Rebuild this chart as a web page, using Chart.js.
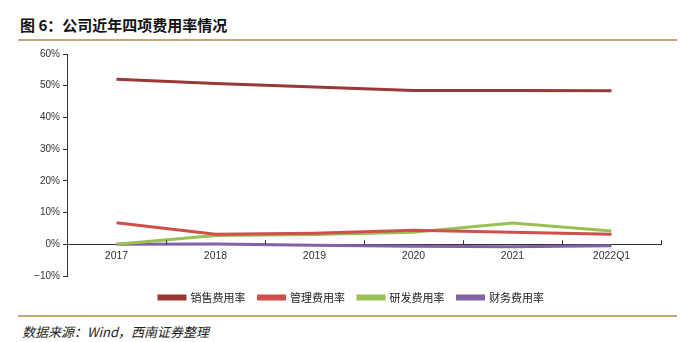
<!DOCTYPE html>
<html>
<head>
<meta charset="utf-8">
<script src="https://cdn.jsdelivr.net/npm/chart.js@4/dist/chart.umd.min.js"></script>
<style>
  body { margin: 0; background: #fff; width: 682px; height: 342px; position: relative; overflow: hidden; }
  .title { position: absolute; left: 20px; top: 14px; font: bold 15px "Noto Sans CJK SC", sans-serif; color: #111; }
  .rule { position: absolute; left: 18px; width: 659px; height: 2px; background: #c9a679; }
  .source { position: absolute; left: 22px; top: 322px; font: italic 13px "Noto Sans CJK SC", sans-serif; color: #222; }
  .wrap { position: absolute; left: 0; top: 44px; width: 682px; height: 266px; }
</style>
</head>
<body>
<div class="title">图 6：公司近年四项费用率情况</div>
<div class="rule" style="top:39px"></div>
<div class="wrap"><canvas id="c"></canvas></div>
<div class="rule" style="top:315px"></div>
<div class="source">数据来源：Wind，西南证券整理</div>
<script>
  // values in %
  const periods = ['2017', '2018', '2019', '2020', '2021', '2022Q1'];
  const sales   = [52.0, 50.7, 49.6, 48.5, 48.5, 48.4];
  const admin   = [6.8, 3.2, 3.5, 4.4, 3.8, 3.2];
  const rnd     = [0.0, 2.8, 3.1, 3.8, 6.7, 4.2];
  const finance = [0.0, 0.1, -0.3, -0.6, -0.8, -0.5];

  const mk = (label, data, color) => ({
    label, data, borderColor: color, backgroundColor: color,
    borderWidth: 3, pointRadius: 0, tension: 0
  });

  // upward tick marks at the category band edges
  const upTicks = {
    id: 'upTicks',
    afterDraw(chart) {
      const xs = chart.scales.x, ys = chart.scales.y;
      const y0 = ys.getPixelForValue(0);
      const ctx = chart.ctx;
      ctx.save();
      ctx.strokeStyle = '#333';
      ctx.lineWidth = 1;
      for (let i = 0; i <= periods.length; i++) {
        const x = Math.round(xs.getPixelForValue(i - 0.5)) + 0.5;
        ctx.beginPath();
        ctx.moveTo(x, y0);
        ctx.lineTo(x, y0 - 4);
        ctx.stroke();
      }
      ctx.restore();
    }
  };

  // legend sits a bit right of centre and lower in the original
  const nudgeLegend = {
    id: 'nudgeLegend',
    afterLayout(chart) {
      const lg = chart.legend;
      lg.left += 21; lg.right += 21;
      lg.top += 3; lg.bottom += 3;
    }
  };

  new Chart(document.getElementById('c'), {
    type: 'line',
    data: {
      labels: periods,
      datasets: [
        mk('销售费用率', sales, '#9b3734'),
        mk('管理费用率', admin, '#cf4f4b'),
        mk('研发费用率', rnd, '#98c055'),
        mk('财务费用率', finance, '#8063a6')
      ]
    },
    options: {
      responsive: true,
      maintainAspectRatio: false,
      animation: false,
      layout: { padding: { top: 10, right: 21, left: 0, bottom: 0 } },
      plugins: {
        legend: {
          position: 'bottom',
          labels: {
            boxWidth: 26, boxHeight: 3, padding: 13,
            color: '#222',
            font: { size: 11, family: '"Noto Sans CJK SC", sans-serif' }
          }
        },
        tooltip: { enabled: false }
      },
      scales: {
        x: {
          position: { y: 0 },
          offset: true,
          grid: { display: false, offset: true, drawTicks: false },
          border: { color: '#333', width: 1 },
          ticks: { color: '#333', padding: 6, font: { size: 10.5, family: 'Liberation Sans, Arial, sans-serif' } }
        },
        y: {
          min: -10, max: 60,
          afterFit(s) { s.width = 67; },
          grid: { drawOnChartArea: false, tickLength: 4, color: '#333' },
          border: { color: '#333', width: 1 },
          ticks: {
            stepSize: 10, padding: 3, color: '#333',
            font: { size: 10, family: 'Liberation Sans, Arial, sans-serif' },
            callback: v => (v < 0 ? '\u2212' + Math.abs(v) : v) + '%'
          }
        }
      }
    },
    plugins: [upTicks, nudgeLegend]
  });
</script>
</body>
</html>
